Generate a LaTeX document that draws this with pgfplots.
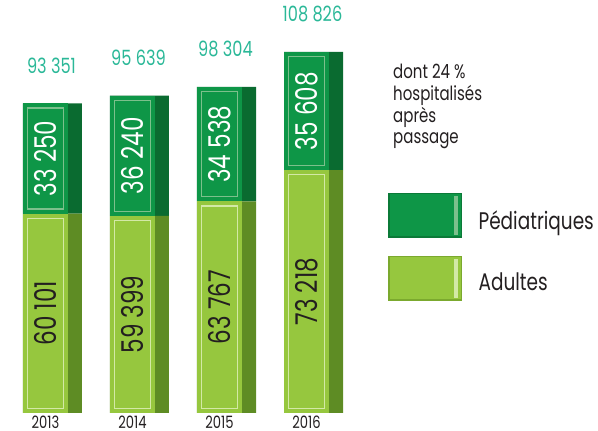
\documentclass[border=0pt]{standalone}
\usepackage{graphicx}
\usepackage{pgfplots}
\usepackage{pgfplotstable}
\pgfplotsset{compat=1.18}
\usepackage{fontspec}
\setmainfont{Poppins}[FakeStretch=0.77]

\definecolor{pedF}{HTML}{0E9647}
\definecolor{pedS}{HTML}{0A6B30}
\definecolor{pedL}{HTML}{7CC08C}
\definecolor{pedB}{HTML}{0B7A38}
\definecolor{adF}{HTML}{96C73E}
\definecolor{adS}{HTML}{5E8C24}
\definecolor{adL}{HTML}{D3E9A6}
\definecolor{adB}{HTML}{7BA92E}
\definecolor{totc}{HTML}{2BB898}
\definecolor{txt}{HTML}{231F20}

\pgfplotstableread{
x adults ped total
0 60101 33250 93351
1 59399 36240 95639
2 63767 34538 98304
3 73218 35608 108826
}\data

\pgfplotsset{
  calc half/.code={%
    \pgfkeys{/pgf/fpu=true,/pgf/fpu/output format=fixed}%
    \pgfmathsetmacro\halfh{\pgfplotspointmeta*0.00165863}%
    \pgfkeys{/pgf/fpu=false}%
  },
  geom/.style={at={(0pt,18pt)}, anchor=south west,
    scale only axis, width=598pt, height=398.07pt,
    xmin=-0.6034, xmax=6.2701, ymin=0, ymax=120000, clip=false,
    /pgf/number format/fixed,
    /pgf/number format/precision=0,
    /pgf/number format/1000 sep={\ },
    /pgf/number format/assume math mode=true},
}
\tikzset{
  seg/.style n args={2}{%
    /pgfplots/calc half,
    anchor=north, xshift=-7pt, yshift=-4.65pt,
    minimum width=35.7pt, minimum height={2*\halfh pt-9.3pt},
    inner sep=0pt, outer sep=0pt,
    fill=#1, draw=#1, line width=4pt, double=#2, double distance=1.3pt
  }
}

\begin{document}
\begin{tikzpicture}
\useasboundingbox (0,0) rectangle (598pt,431pt);
\begin{axis}[geom,
  ybar stacked, bar width=59pt,
  axis line style={draw=none},
  major tick length=0pt,
  ytick=\empty,
  xtick={0,1,2,3},
  xticklabels={2013,2014,2015,2016},
  xticklabel style={font=\fontsize{17}{17}\selectfont, text=txt, anchor=center, xshift=-7pt, yshift=-9pt},
  legend cell align=left,
  legend style={at={(axis description cs:0.6488,0.5527)}, anchor=north west,
    draw=none, fill=none, inner sep=0pt, row sep=18pt, column sep=17pt,
    font=\fontsize{24}{24}\selectfont, text=txt,
    nodes={inner sep=0pt}},
]
\addplot[fill=adS, draw=none, forget plot] table[x=x, y=adults]{\data};
\addplot[fill=pedS, draw=none, forget plot] table[x=x, y=ped]{\data};

\addlegendimage{legend image code/.code={
  \fill[pedB] (0pt,-17pt) rectangle (73pt,27pt);
  \fill[pedF] (1.5pt,-15pt) rectangle (71.5pt,26pt);
  \fill[pedL] (66pt,-14pt) rectangle (69pt,24pt);}}
\addlegendentry{Pédiatriques}
\addlegendimage{legend image code/.code={
  \fill[adB] (0pt,-17pt) rectangle (73pt,27pt);
  \fill[adF] (1.5pt,-15pt) rectangle (71.5pt,26pt);
  \fill[adL] (66pt,-14pt) rectangle (69pt,24pt);}}
\addlegendentry{Adultes}
\end{axis}
\begin{axis}[geom, hide axis]
% front faces and value labels of the Adultes segments (top of segment = adults)
\addplot[draw=none, mark=none,
  nodes near coords={\rotatebox{90}{\pgfmathprintnumber{\pgfplotspointmeta}}},
  point meta=\thisrow{adults},
  nodes near coords style={seg={adF}{adL}, font=\fontsize{30}{30}\selectfont, text=txt}]
  table[x=x, y=adults]{\data};
% front faces and value labels of the Pediatriques segments (top of segment = total)
\addplot[draw=none, mark=none,
  nodes near coords={\rotatebox{90}{\pgfmathprintnumber{\pgfplotspointmeta}}},
  point meta=\thisrow{ped},
  nodes near coords style={seg={pedF}{pedL}, font=\fontsize{30}{30}\selectfont, text=white}]
  table[x=x, y=total]{\data};
% totals above the bars
\addplot[draw=none, mark=none, nodes near coords, point meta=\thisrow{total},
  nodes near coords style={anchor=south, inner sep=0pt, yshift=30pt, xshift=-1pt, font=\fontsize{21}{21}\selectfont, text=totc}]
  table[x=x, y=total]{\data};
\end{axis}
\node[anchor=north west, align=left, inner sep=0pt, font=\fontsize{19.5}{21.7}\selectfont, text=txt] at (393pt,367pt) {dont 24~\%\\hospitalisés\\après\\passage};
\end{tikzpicture}
\end{document}
